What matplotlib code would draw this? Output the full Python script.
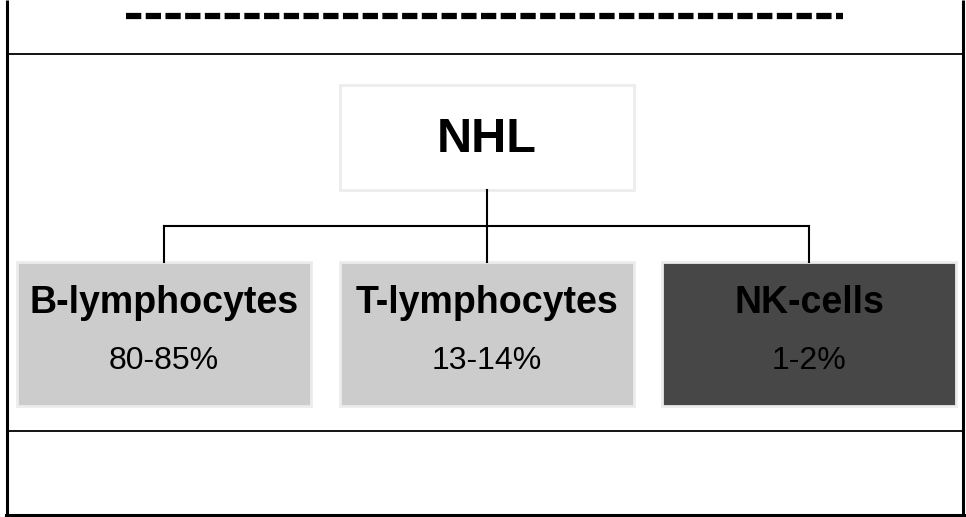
import matplotlib.pyplot as plt
from matplotlib.patches import Rectangle

plt.rcParams['lines.scale_dashes'] = False

# 데이터
root_label = 'NHL'
categories = ['B-lymphocytes', 'T-lymphocytes', 'NK-cells']
shares = ['80-85%', '13-14%', '1-2%']
box_colors = ['#cccccc', '#cccccc', '#474747']

font = ['Liberation Sans Narrow', 'Liberation Sans', 'DejaVu Sans']

fig = plt.figure(figsize=(9.66, 5.17), dpi=100)
ax = fig.add_axes([0, 0, 1, 1])
ax.set_xlim(0, 966)
ax.set_ylim(517, 0)
ax.axis('off')

# 표 테두리
ax.plot([7, 7], [0, 515], color='black', lw=2.2, solid_capstyle='butt')
ax.plot([963, 963], [0, 515], color='black', lw=2.2, solid_capstyle='butt')
ax.plot([6, 964], [515, 515], color='black', lw=2.2)
ax.plot([7, 963], [54, 54], color='black', lw=1.3)
ax.plot([7, 963], [431, 431], color='black', lw=1.3)

# 점선
dash_line, = ax.plot([126, 843], [16, 16], color='black', lw=4.5,
                     solid_capstyle='butt', dash_capstyle='butt')
dash_line.set_dashes([11, 3.2])

# 루트 박스
ax.add_patch(Rectangle((340, 85), 294, 105, facecolor='white',
                       edgecolor='#ececec', lw=2))
ax.text(487, 139, root_label, ha='center', va='center', fontsize=35,
        fontweight='bold', family=font)

# 연결선
box_w = 294
lefts = [17, 340, 662]
centers = [l + box_w / 2 for l in lefts]
ax.plot([487, 487], [190, 226], color='black', lw=1.5)
ax.plot([centers[0], centers[-1]], [226, 226], color='black', lw=1.5)
for cx in centers:
    ax.plot([cx, cx], [226, 262], color='black', lw=1.5)

# 하위 박스
for l, cx, name, share, c in zip(lefts, centers, categories, shares, box_colors):
    ax.add_patch(Rectangle((l, 262), box_w, 144, facecolor=c,
                           edgecolor='#ececec', lw=2))
    ax.text(cx, 303, name, ha='center', va='center', fontsize=27,
            fontweight='bold', family=font)
    ax.text(cx, 361, share, ha='center', va='center', fontsize=23,
            family=font)

fig.savefig('out.png', dpi=100)
